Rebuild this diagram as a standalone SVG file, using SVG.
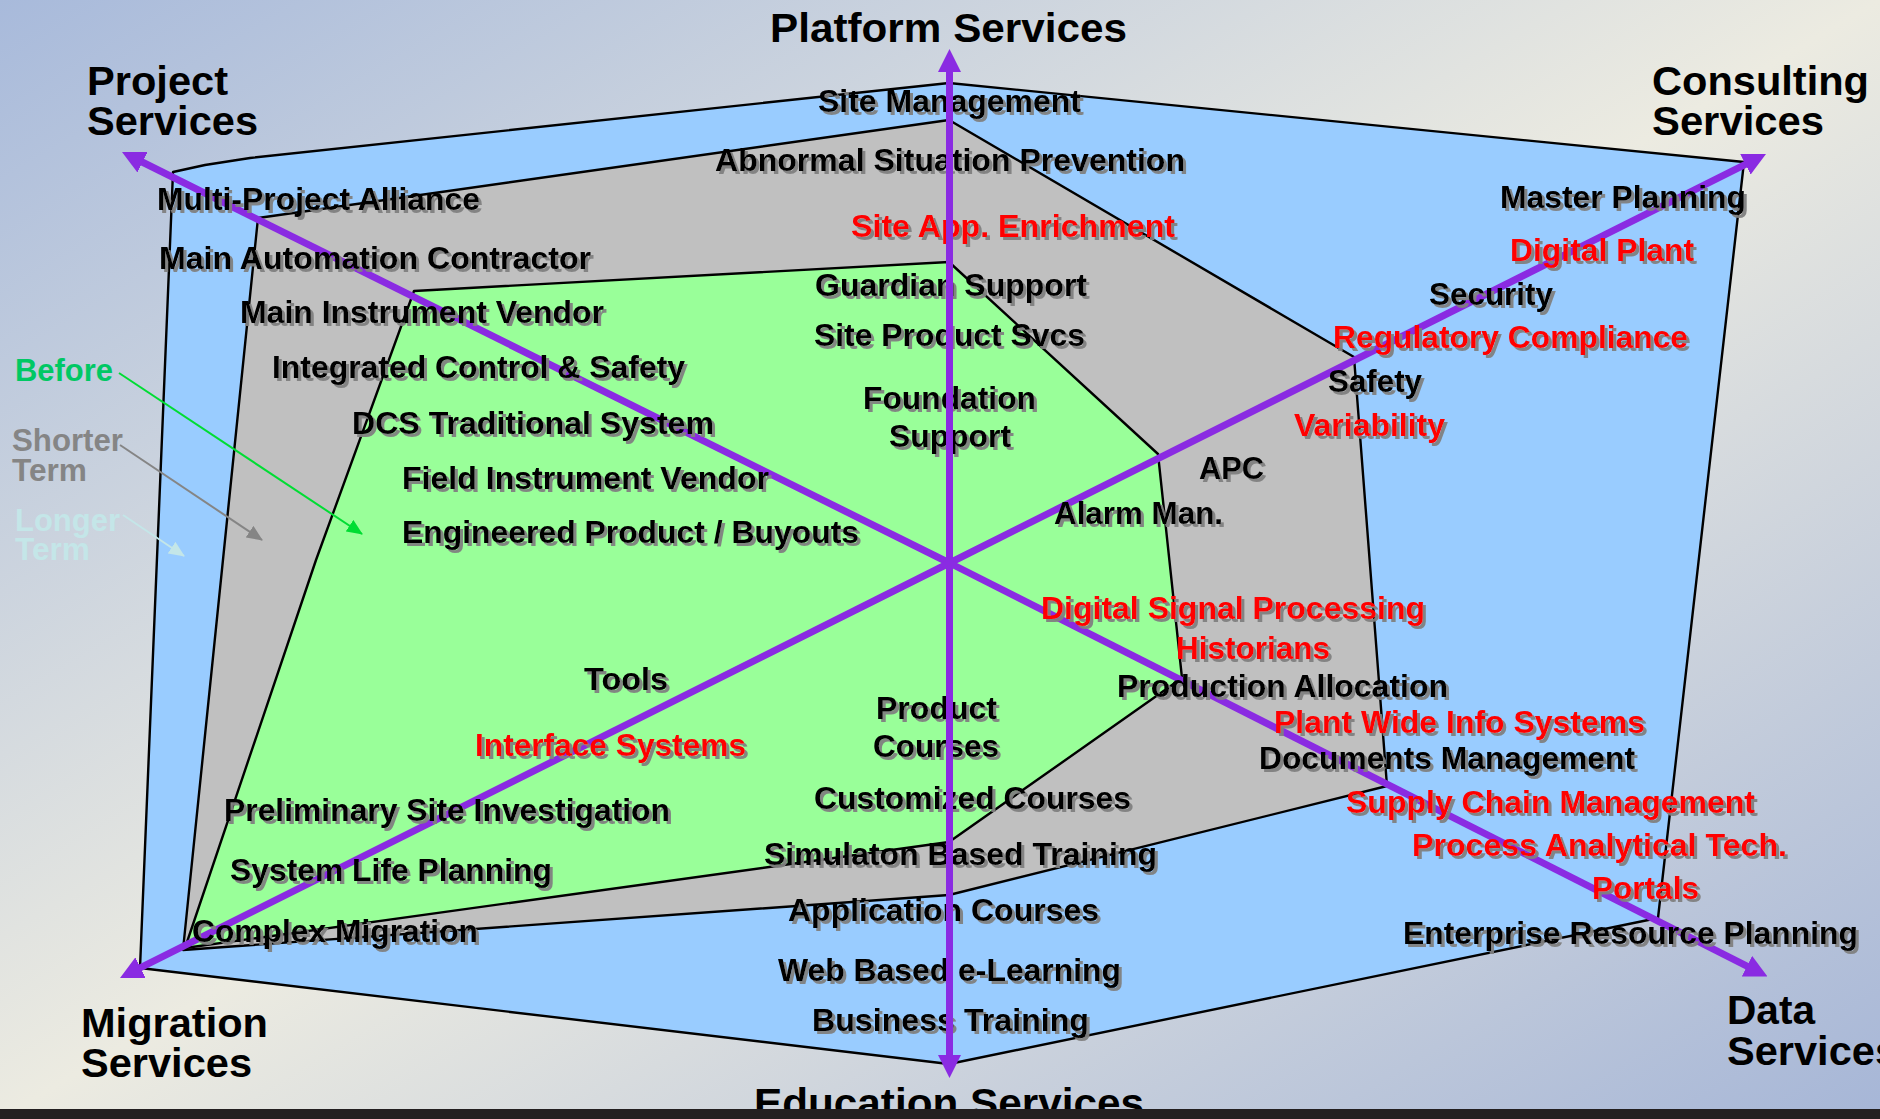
<svg xmlns="http://www.w3.org/2000/svg" width="1880" height="1119" viewBox="0 0 1880 1119">
<defs>
<linearGradient id="bg" x1="0" y1="0" x2="1" y2="1">
<stop offset="0" stop-color="#a8badb"/>
<stop offset="0.5" stop-color="#ecebe1"/>
<stop offset="1" stop-color="#a6b6d7"/>
</linearGradient>
<marker id="ah" viewBox="0 0 23 23" markerWidth="23" markerHeight="23" refX="5" refY="11.5" orient="auto" markerUnits="userSpaceOnUse"><path d="M0,0 L23,11.5 L0,23 z" fill="#8a2be2"/></marker>
<marker id="ahG" viewBox="0 0 16 14" markerWidth="16" markerHeight="14" refX="15" refY="7" orient="auto" markerUnits="userSpaceOnUse"><path d="M0,0 L16,7 L0,14 z" fill="#00dd33"/></marker>
<marker id="ahS" viewBox="0 0 16 14" markerWidth="16" markerHeight="14" refX="15" refY="7" orient="auto" markerUnits="userSpaceOnUse"><path d="M0,0 L16,7 L0,14 z" fill="#858585"/></marker>
<marker id="ahL" viewBox="0 0 16 14" markerWidth="16" markerHeight="14" refX="15" refY="7" orient="auto" markerUnits="userSpaceOnUse"><path d="M0,0 L16,7 L0,14 z" fill="#c4e6e8"/></marker>
<filter id="sh" x="-5%" y="-30%" width="112%" height="170%">
<feDropShadow dx="3" dy="3" stdDeviation="0.7" flood-color="#808080" flood-opacity="0.95"/>
</filter>
<style>
text { font-family: "Liberation Sans", Arial, Helvetica, sans-serif; font-weight: bold; }
.lbl text { font-size: 32px; fill: #000; }
.lbl { filter: url(#sh); }
.lbl text.red { fill: #ff0000; }
.ttl text { font-size: 41px; fill: #000; }
.leg text { font-size: 31px; }
.region { stroke: #000; stroke-width: 2.4; stroke-linejoin: round; }
.axis { stroke: #8a2be2; stroke-width: 7; fill: none; marker-end: url(#ah); }
.legline { stroke-width: 2; fill: none; }
</style>
</defs>

<rect id="background" x="0" y="0" width="1880" height="1119" fill="url(#bg)"/>

<g id="regions">
<polygon id="longer-term" class="region" fill="#99ccff" points="173,172 205,165 250,158 949,83 1744,162 1658,918 949,1064 140,968"/>
<polygon id="shorter-term" class="region" fill="#c0c0c0" points="258,218 949,120 1354,357 1387,786 949,895 183,950"/>
<polygon id="before" class="region" fill="#99ff99" points="414,291 949,262 1158,454 1182,678 949,842 185,948 316,560"/>
</g>

<g id="connectors">
<line class="axis" x1="949.5" y1="563" x2="138.1" y2="160.0"/>
<line class="axis" x1="949.5" y1="563" x2="1749.9" y2="162.1"/>
<line class="axis" x1="949.5" y1="563" x2="136.1" y2="969.9"/>
<line class="axis" x1="949.5" y1="563" x2="1751.4" y2="968.4"/>
<line class="legline" stroke="#00dd33" marker-end="url(#ahG)" x1="119" y1="373" x2="362" y2="534"/>
<line class="legline" stroke="#858585" marker-end="url(#ahS)" x1="120" y1="445" x2="262" y2="540"/>
<line class="legline" stroke="#c4e6e8" marker-end="url(#ahL)" x1="123" y1="515" x2="184" y2="556"/>
</g>

<g id="axis-titles" class="ttl">
<g id="title-platform"><text x="770" y="42" textLength="357" lengthAdjust="spacingAndGlyphs">Platform Services</text></g>
<g id="title-project"><text x="87" y="95" textLength="141" lengthAdjust="spacingAndGlyphs">Project</text><text x="87" y="135" textLength="171" lengthAdjust="spacingAndGlyphs">Services</text></g>
<g id="title-consulting"><text x="1652" y="95" textLength="217" lengthAdjust="spacingAndGlyphs">Consulting</text><text x="1652" y="135" textLength="172" lengthAdjust="spacingAndGlyphs">Services</text></g>
<g id="title-migration"><text x="81" y="1037" textLength="187" lengthAdjust="spacingAndGlyphs">Migration</text><text x="81" y="1077" textLength="171" lengthAdjust="spacingAndGlyphs">Services</text></g>
<g id="title-data"><text x="1727" y="1024" textLength="88" lengthAdjust="spacingAndGlyphs">Data</text><text x="1727" y="1065" textLength="171" lengthAdjust="spacingAndGlyphs">Services</text></g>
<g id="title-education"><text x="754" y="1117" textLength="390" lengthAdjust="spacingAndGlyphs">Education Services</text></g>
</g>

<g id="project-labels" class="lbl">
<text x="157" y="210" textLength="323" lengthAdjust="spacingAndGlyphs">Multi-Project Alliance</text>
<text x="159" y="269" textLength="432" lengthAdjust="spacingAndGlyphs">Main Automation Contractor</text>
<text x="240" y="323" textLength="364" lengthAdjust="spacingAndGlyphs">Main Instrument Vendor</text>
<text x="272" y="378" textLength="413" lengthAdjust="spacingAndGlyphs">Integrated Control &amp; Safety</text>
<text x="352" y="434" textLength="362" lengthAdjust="spacingAndGlyphs">DCS Traditional System</text>
<text x="402" y="489" textLength="367" lengthAdjust="spacingAndGlyphs">Field Instrument Vendor</text>
<text x="402" y="543" textLength="457" lengthAdjust="spacingAndGlyphs">Engineered Product / Buyouts</text>
</g>

<g id="platform-labels" class="lbl">
<text x="818" y="112" textLength="263" lengthAdjust="spacingAndGlyphs">Site Management</text>
<text x="715" y="171" textLength="470" lengthAdjust="spacingAndGlyphs">Abnormal Situation Prevention</text>
<text class="red" x="851" y="237" textLength="324" lengthAdjust="spacingAndGlyphs">Site App. Enrichment</text>
<text x="815" y="296" textLength="272" lengthAdjust="spacingAndGlyphs">Guardian Support</text>
<text x="814" y="346" textLength="271" lengthAdjust="spacingAndGlyphs">Site Product Svcs</text>
<text x="863" y="409" textLength="173" lengthAdjust="spacingAndGlyphs">Foundation</text>
<text x="889" y="447" textLength="122" lengthAdjust="spacingAndGlyphs">Support</text>
</g>

<g id="consulting-labels" class="lbl">
<text x="1500" y="208" textLength="246" lengthAdjust="spacingAndGlyphs">Master Planning</text>
<text class="red" x="1510" y="261" textLength="184" lengthAdjust="spacingAndGlyphs">Digital Plant</text>
<text x="1429" y="305" textLength="124" lengthAdjust="spacingAndGlyphs">Security</text>
<text class="red" x="1333" y="348" textLength="355" lengthAdjust="spacingAndGlyphs">Regulatory Compliance</text>
<text x="1328" y="392" textLength="94" lengthAdjust="spacingAndGlyphs">Safety</text>
<text class="red" x="1294" y="436" textLength="151" lengthAdjust="spacingAndGlyphs">Variability</text>
<text x="1199" y="479" textLength="65" lengthAdjust="spacingAndGlyphs">APC</text>
<text x="1054" y="524" textLength="169" lengthAdjust="spacingAndGlyphs">Alarm Man.</text>
</g>

<g id="data-labels" class="lbl">
<text class="red" x="1041" y="619" textLength="384" lengthAdjust="spacingAndGlyphs">Digital Signal Processing</text>
<text class="red" x="1176" y="659" textLength="154" lengthAdjust="spacingAndGlyphs">Historians</text>
<text x="1117" y="697" textLength="331" lengthAdjust="spacingAndGlyphs">Production Allocation</text>
<text class="red" x="1274" y="733" textLength="371" lengthAdjust="spacingAndGlyphs">Plant Wide Info Systems</text>
<text x="1259" y="769" textLength="376" lengthAdjust="spacingAndGlyphs">Documents Management</text>
<text class="red" x="1346" y="813" textLength="409" lengthAdjust="spacingAndGlyphs">Supply Chain Management</text>
<text class="red" x="1412" y="856" textLength="375" lengthAdjust="spacingAndGlyphs">Process Analytical Tech.</text>
<text class="red" x="1592" y="899" textLength="107" lengthAdjust="spacingAndGlyphs">Portals</text>
<text x="1403" y="944" textLength="455" lengthAdjust="spacingAndGlyphs">Enterprise Resource Planning</text>
</g>

<g id="education-labels" class="lbl">
<text x="876" y="719" textLength="121" lengthAdjust="spacingAndGlyphs">Product</text>
<text x="873" y="757" textLength="126" lengthAdjust="spacingAndGlyphs">Courses</text>
<text x="814" y="809" textLength="317" lengthAdjust="spacingAndGlyphs">Customized Courses</text>
<text x="764" y="865" textLength="393" lengthAdjust="spacingAndGlyphs">Simulaton Based Training</text>
<text x="788" y="921" textLength="311" lengthAdjust="spacingAndGlyphs">Application Courses</text>
<text x="778" y="981" textLength="343" lengthAdjust="spacingAndGlyphs">Web Based e-Learning</text>
<text x="812" y="1031" textLength="277" lengthAdjust="spacingAndGlyphs">Business Training</text>
</g>

<g id="migration-labels" class="lbl">
<text x="584" y="690" textLength="84" lengthAdjust="spacingAndGlyphs">Tools</text>
<text class="red" x="475" y="756" textLength="271" lengthAdjust="spacingAndGlyphs">Interface Systems</text>
<text x="224" y="821" textLength="446" lengthAdjust="spacingAndGlyphs">Preliminary Site Investigation</text>
<text x="230" y="881" textLength="322" lengthAdjust="spacingAndGlyphs">System Life Planning</text>
<text x="192" y="942" textLength="286" lengthAdjust="spacingAndGlyphs">Complex Migration</text>
</g>

<g id="legend" class="leg">
<g id="legend-before"><text x="15" y="381" fill="#00c864" textLength="98" lengthAdjust="spacingAndGlyphs">Before</text></g>
<g id="legend-shorter"><text x="12" y="451" fill="#858585" textLength="111" lengthAdjust="spacingAndGlyphs">Shorter</text><text x="12" y="481" fill="#858585" textLength="75" lengthAdjust="spacingAndGlyphs">Term</text></g>
<g id="legend-longer"><text x="15" y="531" fill="#c4e6e8" textLength="105" lengthAdjust="spacingAndGlyphs">Longer</text><text x="15" y="560" fill="#c4e6e8" textLength="75" lengthAdjust="spacingAndGlyphs">Term</text></g>
</g>

<g id="connectors-vertical">
<line class="axis" x1="949.5" y1="563" x2="949.5" y2="67"/>
<line class="axis" x1="949.5" y1="563" x2="949.5" y2="1060"/>
</g>

<rect id="bottom-band" x="0" y="1109" width="1880" height="10" fill="#231f20"/>
</svg>
